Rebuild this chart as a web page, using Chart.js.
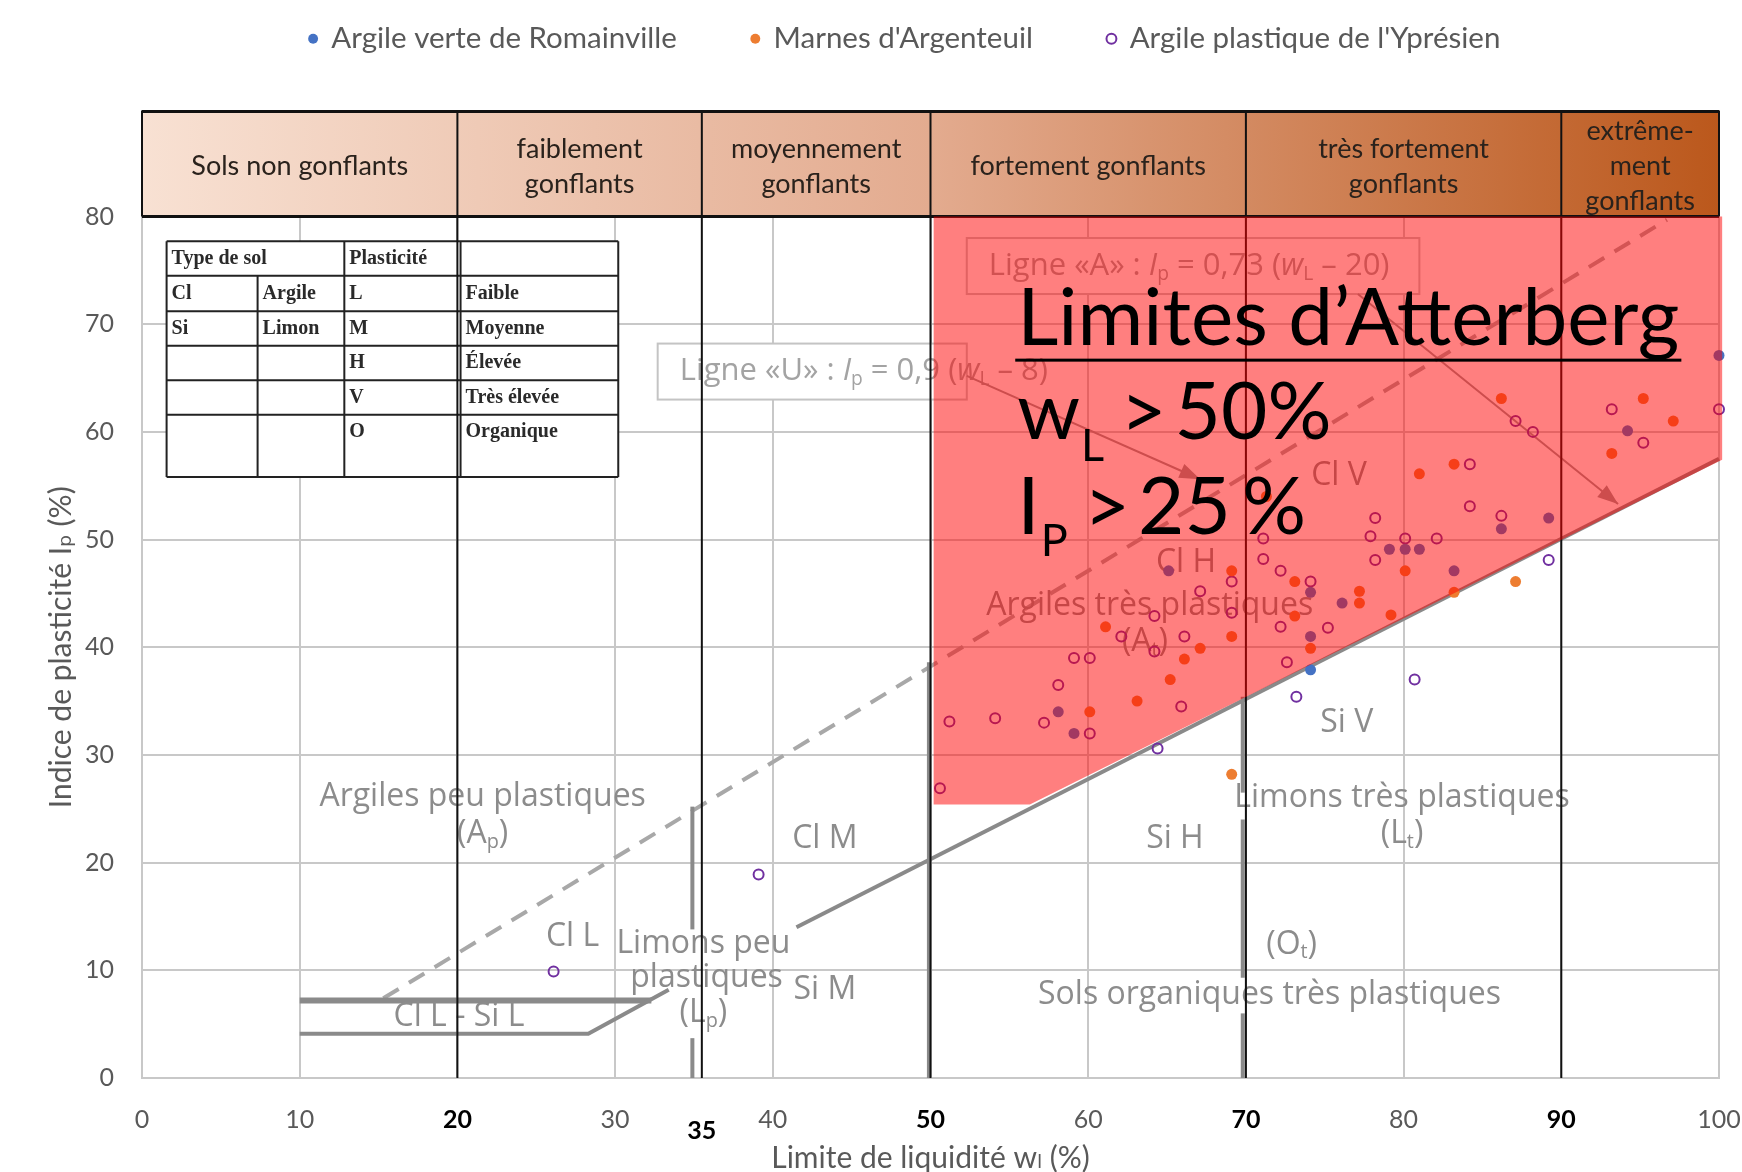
<!DOCTYPE html>
<html>
<head>
<meta charset="utf-8">
<script src="https://cdn.jsdelivr.net/npm/chart.js@4.4.1/dist/chart.umd.min.js"></script>
<style>
  html, body { margin: 0; padding: 0; background: #fff; }
</style>
</head>
<body>
<canvas id="casagrande" width="1742" height="1172"></canvas>
<script>
const wlRomainville = [100.0, 74.1, 58.1, 59.1, 65.1, 74.1, 74.1, 76.1, 79.1, 80.1, 81.0, 83.2, 86.2, 89.2, 94.2];
const ipRomainville = [67.1, 37.9, 34.0, 32.0, 47.1, 45.1, 41.0, 44.1, 49.1, 49.1, 49.1, 47.1, 51.0, 52.0, 60.1];

const wlArgenteuil = [60.1, 61.1, 63.1, 65.2, 66.1, 67.1, 69.1, 69.1, 71.3, 73.1, 73.1, 74.1, 77.2, 77.2, 79.2, 80.1, 81.0, 83.2, 83.2, 86.2, 87.1, 69.1, 93.2, 95.2, 97.1];
const ipArgenteuil = [34.0, 41.9, 35.0, 37.0, 38.9, 39.9, 41.0, 47.1, 54.0, 46.1, 42.9, 39.9, 45.2, 44.1, 43.0, 47.1, 56.1, 57.0, 45.1, 63.1, 46.1, 28.2, 58.0, 63.1, 61.0];

const wlYpresien = [26.1, 39.1, 50.6, 51.2, 54.1, 57.2, 58.1, 59.1, 60.1, 60.1, 62.1, 64.2, 64.2, 64.4, 65.9, 66.1, 67.1, 69.1, 69.1, 71.1, 71.1, 72.2, 72.2, 72.6, 73.2, 74.1, 75.2, 77.9, 78.2, 78.2, 80.1, 80.7, 82.1, 84.2, 84.2, 86.2, 87.1, 88.2, 89.2, 93.2, 95.2, 100.0];
const ipYpresien = [9.9, 18.9, 26.9, 33.1, 33.4, 33.0, 36.5, 39.0, 39.0, 32.0, 41.0, 42.9, 39.6, 30.6, 34.5, 41.0, 45.2, 46.1, 43.2, 50.1, 48.2, 47.1, 41.9, 38.6, 35.4, 46.1, 41.8, 50.3, 52.0, 48.1, 50.1, 37.0, 50.1, 57.0, 53.1, 52.2, 61.0, 60.0, 48.1, 62.1, 59.0, 62.1];

// axes
const xTickValues = [0, 10, 20, 30, 40, 50, 60, 70, 80, 90, 100];
const boldTicks = [20, 50, 70, 90];
const extraTick = { value: 35.5, label: "35" };

// bandeau gonflement
const zoneEdges = [0, 20, 35.5, 50, 70, 90, 100];
const zoneLabels = [
	["Sols non gonflants"],
	["faiblement", "gonflants"],
	["moyennement", "gonflants"],
	["fortement gonflants"],
	["très fortement", "gonflants"],
	["extrême-", "ment", "gonflants"],
];

// lignes du diagramme de plasticité
const lineA = [[41.5, 14.0], [100, 57.5]];
const lineU = [[15.3, 7.4], [96.7, 79.7]];
const silTop = [[10, 7.2], [32.3, 7.2]];
const silBottom = [[10, 4.1], [28.3, 4.1], [33.4, 8.2]];
const greyVerticals = [
	[34.9, 0, 3.7], [34.9, 13.8, 25.2],
	[49.9, 0, 38.6],
	[69.8, 0, 6.0], [69.8, 9.3, 24.0], [69.8, 26.5, 35.4],
];

// zone Limites d'Atterberg
const redZone = [[50.2, 80], [100.2, 80], [100.2, 57.4], [56.3, 25.4], [50.2, 25.4]];

// libellés des domaines [texte, wL, Ip]
const regionLabels = [
	[[["Argiles peu plastiques"]], 21.6, 26.1],
	[[["(A"], ["p", "sub"], [")"]], 21.6, 22.7],
	[[["Cl M"]], 43.3, 22.2],
	[[["Cl L"]], 27.3, 13.1],
	[[["Limons peu"]], 35.6, 12.5],
	[[["plastiques"]], 35.8, 9.3],
	[[["(L"], ["p", "sub"], [")"]], 35.6, 6.0],
	[[["Si M"]], 43.3, 8.2],
	[[["Cl L - Si L"]], 20.1, 5.7],
	[[["Argiles très plastiques"]], 63.9, 43.8],
	[[["(A"], ["t", "sub"], [")"]], 63.6, 40.5],
	[[["Cl H"]], 66.2, 47.8],
	[[["Cl V"]], 75.9, 55.9],
	[[["Si V"]], 76.4, 33.0],
	[[["Limons très plastiques"]], 79.9, 26.0],
	[[["(L"], ["t", "sub"], [")"]], 79.9, 22.7],
	[[["Si H"]], 65.5, 22.2],
	[[["(O"], ["t", "sub"], [")"]], 72.9, 12.4],
	[[["Sols organiques très plastiques"]], 71.5, 7.7],
];

// encadrés des lignes A et U
const noteBoxes = [
	{ x0: 32.7, x1: 52.3, y0: 63.0, y1: 68.2, tx: 34.1, ty: 65.6,
	  runs: [["Ligne «U» : "], ["I", "i"], ["p", "sub"], [" = 0,9 ("], ["w", "i"], ["L", "sub"], [" – 8)"]] },
	{ x0: 52.3, x1: 81.0, y0: 72.8, y1: 78.0, tx: 53.7, ty: 75.4,
	  runs: [["Ligne «A» : "], ["I", "i"], ["p", "sub"], [" = 0,73 ("], ["w", "i"], ["L", "sub"], [" – 20)"]] },
];
const arrows = [
	[[77.1, 72.8], [93.6, 53.3]],
	[[52.3, 65.2], [67.1, 55.6]],
];

// tableau de légende des sols
const tableCols = [1.56, 7.33, 12.83, 20.2, 30.2];
const tableRows = [77.7, 74.5, 71.2, 68.0, 64.8, 61.6, 55.8];
const tableCells = [
	["Type de sol", "", "Plasticité", ""],
	["Cl", "Argile", "L", "Faible"],
	["Si", "Limon", "M", "Moyenne"],
	["", "", "H", "Élevée"],
	["", "", "V", "Très élevée"],
	["", "", "O", "Organique"],
];

const HEADER_H = 106;
const SANS = "Lato, 'DejaVu Sans', sans-serif";
const GREY_TXT = "'Open Sans', 'DejaVu Sans', sans-serif";

const pairs = (xs, ys) => xs.map((v, i) => ({ x: v, y: ys[i] }));

// texte avec indices / italiques
function richText(ctx, runs, x, y, size, family, color, align) {
	const parts = runs.map(([t, s]) => {
		const fs = s === "sub" ? size * 0.62 : size;
		const font = (s === "i" ? "italic " : "") + fs + "px " + family;
		ctx.font = font;
		return { t, font, w: ctx.measureText(t).width, dy: s === "sub" ? size * 0.26 : 0 };
	});
	const total = parts.reduce((a, p) => a + p.w, 0);
	let cx = align === "center" ? x - total / 2 : x;
	ctx.fillStyle = color;
	ctx.textAlign = "left";
	ctx.textBaseline = "middle";
	parts.forEach((p) => {
		ctx.font = p.font;
		ctx.fillText(p.t, cx, y + p.dy);
		cx += p.w;
	});
	return total;
}

const backdrop = {
	id: "backdrop",
	beforeDatasetsDraw(chart) {
		const { ctx, chartArea: a, scales } = chart;
		const X = (v) => scales.x.getPixelForValue(v);
		const Y = (v) => scales.y.getPixelForValue(v);
		const top = a.top - HEADER_H;
		ctx.save();

		// bandeau
		const g = ctx.createLinearGradient(a.left, 0, a.right, 0);
		g.addColorStop(0, "#f8e1d3");
		g.addColorStop(0.5, "#e3ab8f");
		g.addColorStop(1, "#bb581c");
		ctx.fillStyle = g;
		ctx.fillRect(a.left, top, a.right - a.left, HEADER_H);

		// tableau
		const tx = tableCols.map(X), ty = tableRows.map(Y);
		ctx.fillStyle = "#fff";
		ctx.fillRect(tx[0], ty[0], tx[4] - tx[0], ty[6] - ty[0]);
		ctx.strokeStyle = "#222";
		ctx.lineWidth = 2;
		ctx.beginPath();
		ty.forEach((yy) => { ctx.moveTo(tx[0], yy); ctx.lineTo(tx[4], yy); });
		tx.forEach((xx, i) => {
			ctx.moveTo(xx, i === 1 ? ty[1] : ty[0]);
			ctx.lineTo(xx, ty[6]);
		});
		ctx.stroke();
		ctx.font = "bold 20px 'Liberation Serif', serif";
		ctx.fillStyle = "#2a2a2a";
		ctx.textAlign = "left";
		ctx.textBaseline = "middle";
		tableCells.forEach((row, r) => {
			const yy = r < 5 ? (ty[r] + ty[r + 1]) / 2 : ty[r] + 17;
			row.forEach((t, c) => { if (t) ctx.fillText(t, tx[c] + 5, yy); });
		});

		// ligne U (tirets)
		ctx.strokeStyle = "#a8a8a8";
		ctx.lineWidth = 4;
		ctx.setLineDash([18, 12]);
		ctx.beginPath();
		ctx.moveTo(X(lineU[0][0]), Y(lineU[0][1]));
		ctx.lineTo(X(lineU[1][0]), Y(lineU[1][1]));
		ctx.stroke();
		ctx.setLineDash([]);

		// ligne A et limites Cl L - Si L
		ctx.strokeStyle = "#8a8a8a";
		const poly = (pts, w) => {
			ctx.lineWidth = w;
			ctx.beginPath();
			pts.forEach(([px, py], i) => (i ? ctx.lineTo(X(px), Y(py)) : ctx.moveTo(X(px), Y(py))));
			ctx.stroke();
		};
		poly(lineA, 4);
		poly(silTop, 6);
		poly(silBottom, 4);
		greyVerticals.forEach(([vx, y0, y1]) => poly([[vx, y0], [vx, y1]], 4));

		// encadrés
		noteBoxes.forEach((b) => {
			ctx.fillStyle = "#fff";
			ctx.fillRect(X(b.x0), Y(b.y1), X(b.x1) - X(b.x0), Y(b.y0) - Y(b.y1));
			ctx.strokeStyle = "#c4c4c4";
			ctx.lineWidth = 2;
			ctx.strokeRect(X(b.x0), Y(b.y1), X(b.x1) - X(b.x0), Y(b.y0) - Y(b.y1));
			richText(ctx, b.runs, X(b.tx), Y(b.ty), 31, GREY_TXT, "#a3a3a3", "left");
		});

		// flèches
		ctx.strokeStyle = "#9a9a9a";
		ctx.fillStyle = "#9a9a9a";
		ctx.lineWidth = 2;
		arrows.forEach(([p0, p1]) => {
			const x0 = X(p0[0]), y0 = Y(p0[1]), x1 = X(p1[0]), y1 = Y(p1[1]);
			const ang = Math.atan2(y1 - y0, x1 - x0);
			ctx.beginPath();
			ctx.moveTo(x0, y0);
			ctx.lineTo(x1, y1);
			ctx.stroke();
			ctx.beginPath();
			ctx.moveTo(x1, y1);
			ctx.lineTo(x1 - 22 * Math.cos(ang - 0.35), y1 - 22 * Math.sin(ang - 0.35));
			ctx.lineTo(x1 - 22 * Math.cos(ang + 0.35), y1 - 22 * Math.sin(ang + 0.35));
			ctx.closePath();
			ctx.fill();
		});

		// libellés des domaines
		regionLabels.forEach(([runs, lx, ly]) => {
			richText(ctx, runs, X(lx), Y(ly), 32, GREY_TXT, "#8c8c8c", "center");
		});

		// traits noirs des classes de gonflement
		ctx.strokeStyle = "#111";
		ctx.lineWidth = 2;
		ctx.beginPath();
		zoneEdges.slice(1, -1).forEach((e) => { ctx.moveTo(X(e), top); ctx.lineTo(X(e), a.bottom); });
		ctx.moveTo(a.left, top); ctx.lineTo(a.left, a.top);
		ctx.moveTo(a.right, top); ctx.lineTo(a.right, a.top);
		ctx.stroke();
		ctx.lineWidth = 3;
		ctx.beginPath();
		ctx.moveTo(a.left, top + 1); ctx.lineTo(a.right, top + 1);
		ctx.moveTo(a.left, a.top); ctx.lineTo(a.right, a.top);
		ctx.stroke();

		// textes du bandeau
		ctx.fillStyle = "#2a221c";
		ctx.font = "27px " + SANS;
		ctx.textAlign = "center";
		ctx.textBaseline = "middle";
		zoneLabels.forEach((lines, i) => {
			const cx = (X(zoneEdges[i]) + X(zoneEdges[i + 1])) / 2;
			const step = 35;
			const cy = top + HEADER_H / 2 + 3 - ((lines.length - 1) * step) / 2;
			lines.forEach((t, k) => ctx.fillText(t, cx, cy + k * step));
		});

		// graduation 35 décalée
		ctx.font = "bold 25px " + SANS;
		ctx.fillStyle = "#000";
		ctx.fillText(extraTick.label, X(extraTick.value), a.bottom + 53);
		ctx.restore();
	},
	afterDatasetsDraw(chart) {
		const { ctx, scales } = chart;
		const X = (v) => scales.x.getPixelForValue(v);
		const Y = (v) => scales.y.getPixelForValue(v);
		ctx.save();
		ctx.fillStyle = "rgba(255, 0, 0, 0.5)";
		ctx.beginPath();
		redZone.forEach(([px, py], i) => (i ? ctx.lineTo(X(px), Y(py)) : ctx.moveTo(X(px), Y(py))));
		ctx.closePath();
		ctx.fill();

		// titre Limites d'Atterberg
		const title = "Limites d’Atterberg";
		ctx.font = "100px " + SANS;
		const size = Math.round(100 * 663 / ctx.measureText(title).width);
		const left = X(55.5);
		ctx.fillStyle = "#000";
		ctx.textAlign = "left";
		ctx.textBaseline = "alphabetic";
		ctx.font = size + "px " + SANS;
		const w = ctx.measureText(title).width;
		const b1 = Y(68.1);
		ctx.fillText(title, left, b1);
		ctx.fillRect(left - 2, b1 + 14, w + 4, 3);

		// lignes avec indice, espacements resserrés
		const big = size + "px " + SANS;
		const small = Math.round(size * 0.56) + "px " + SANS;
		const condLine = (b, main, idx, num, pct) => {
			let cx = left;
			ctx.font = big;
			ctx.fillText(main, cx, b);
			cx += ctx.measureText(main).width + 1;
			ctx.font = small;
			ctx.fillText(idx, cx, b + size * 0.27);
			cx += ctx.measureText(idx).width + size * 0.2;
			ctx.font = big;
			ctx.fillText(">", cx, b);
			cx += ctx.measureText(">").width + size * 0.1;
			ctx.fillText(num, cx, b);
			cx += ctx.measureText(num).width + (pct.gap ? size * 0.14 : 0);
			ctx.fillText(pct.t, cx, b);
		};
		condLine(Y(59.3), "w", "L", "50", { t: "%", gap: false });
		condLine(Y(50.5), "I", "P", "25", { t: "%", gap: true });
		ctx.restore();
	},
};

const tickFont = (c) => boldTicks.includes(c.tick && c.tick.value)
	? { family: SANS, size: 25, weight: "bold" }
	: { family: SANS, size: 25 };
const tickColor = (c) => boldTicks.includes(c.tick && c.tick.value) ? "#000" : "#595959";

new Chart(document.getElementById("casagrande"), {
	type: "scatter",
	data: {
		datasets: [
			{
				label: "Argile verte de Romainville",
				data: pairs(wlRomainville, ipRomainville),
				pointStyle: "circle",
				pointRadius: 5.5,
				backgroundColor: "#4472c4",
				borderColor: "#4472c4",
				borderWidth: 0,
				clip: false,
			},
			{
				label: "Marnes d'Argenteuil",
				data: pairs(wlArgenteuil, ipArgenteuil),
				pointStyle: "circle",
				pointRadius: 5.5,
				backgroundColor: "#ed7d31",
				borderColor: "#ed7d31",
				borderWidth: 0,
				clip: false,
			},
			{
				label: "Argile plastique de l'Yprésien",
				data: pairs(wlYpresien, ipYpresien),
				pointStyle: "circle",
				pointRadius: 5,
				backgroundColor: "rgba(0, 0, 0, 0)",
				borderColor: "#7030a0",
				borderWidth: 2,
				clip: false,
			},
		],
	},
	options: {
		responsive: false,
		animation: false,
		devicePixelRatio: 1,
		// marge droite négative compensée par l'axe fantôme y2 : centre la légende comme l'original
		layout: { padding: { top: -51, left: 0, right: -68, bottom: 0 } },
		plugins: {
			legend: {
				position: "top",
				weight: 3000,
				labels: {
					usePointStyle: true,
					boxWidth: 7,
					boxHeight: 7,
					padding: 75,
					color: "#595959",
					font: { family: SANS, size: 29.5 },
				},
			},
			// espace entre la légende et le bandeau
			title: { display: true, text: "", padding: { top: 0, bottom: 143 }, font: { size: 10, lineHeight: 1 } },
			tooltip: { enabled: false },
		},
		scales: {
			x: {
				type: "linear",
				min: 0,
				max: 100,
				afterFit: (s) => { s.height = 94; s.paddingLeft = 0; s.paddingRight = 0; },
				afterBuildTicks: (s) => { s.ticks = xTickValues.map((v) => ({ value: v })); },
				grid: { color: "#c8c8c8", lineWidth: 2, drawTicks: false },
				border: { color: "#c8c8c8", width: 2 },
				ticks: {
					padding: 27,
					autoSkip: false,
					maxRotation: 0,
					font: tickFont,
					color: tickColor,
					callback: (v) => String(v),
				},
				title: {
					display: true,
					text: "Limite de liquidité wₗ (%)",
					color: "#595959",
					font: { family: SANS, size: 30, lineHeight: 0.9 },
					padding: { top: 0, bottom: 0 },
				},
			},
			y: {
				min: 0,
				max: 80,
				afterFit: (s) => { s.width = 142; },
				grid: { color: "#c8c8c8", lineWidth: 2, drawTicks: false },
				border: { color: "#c8c8c8", width: 2 },
				ticks: { stepSize: 10, padding: 28, color: "#595959", font: { family: SANS, size: 25 } },
				title: {
					display: true,
					text: "Indice de plasticité Iₚ (%)",
					color: "#595959",
					font: { family: SANS, size: 30 },
					padding: { top: 43, bottom: 0 },
				},
			},
			y2: {
				position: "right",
				min: 0,
				max: 80,
				afterFit: (s) => { s.width = 91; },
				grid: { display: false },
				border: { display: false },
				ticks: { display: false },
			},
		},
	},
	plugins: [backdrop],
});
</script>
</body>
</html>
